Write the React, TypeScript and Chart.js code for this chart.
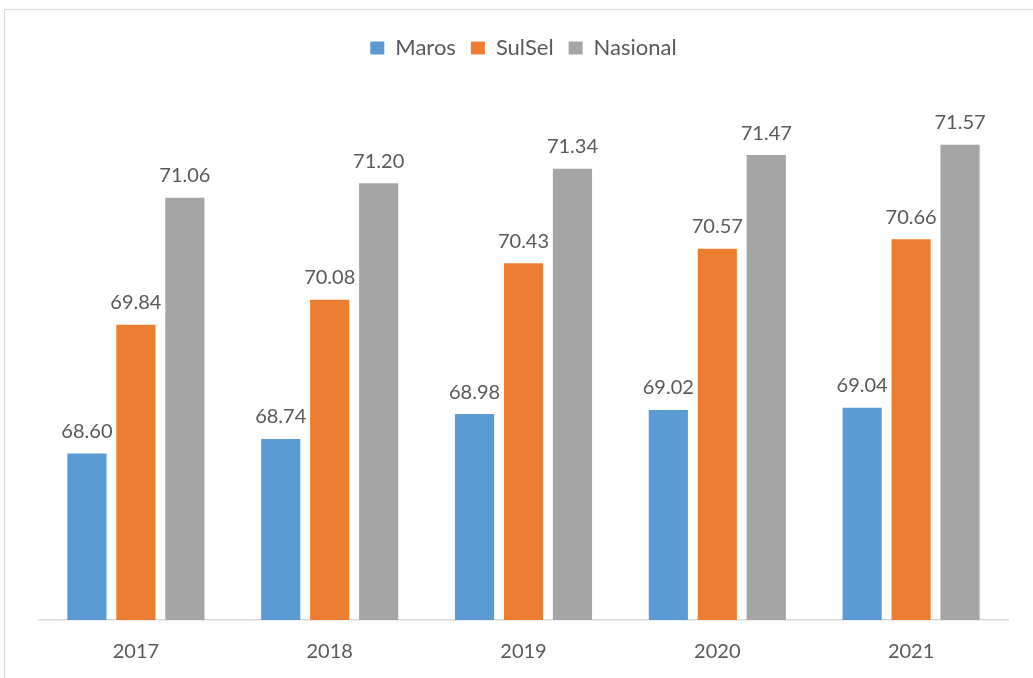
import React, { useEffect, useRef } from "react";
import { Chart, registerables } from "chart.js";

Chart.register(...registerables);

const categories = ["2017", "2018", "2019", "2020", "2021"];
const maros = [68.6, 68.74, 68.98, 69.02, 69.04];
const sulsel = [69.84, 70.08, 70.43, 70.57, 70.66];
const nasional = [71.06, 71.2, 71.34, 71.47, 71.57];

const FONT = "Lato, 'Noto Sans', sans-serif";
const TEXT = "#595959";

const labelPlugin = {
  id: "barLabels",
  afterDatasetsDraw(chart: any) {
    const ctx = chart.ctx;
    ctx.save();
    ctx.font = `20px ${FONT}`;
    ctx.fillStyle = TEXT;
    ctx.textAlign = "center";
    ctx.textBaseline = "bottom";
    chart.data.datasets.forEach((ds: any, i: number) => {
      const meta = chart.getDatasetMeta(i);
      meta.data.forEach((el: any, j: number) => {
        ctx.fillText(Number(ds.data[j]).toFixed(2), el.x, el.y - 12);
      });
    });
    ctx.restore();
  },
};

const legendGapPlugin = {
  id: "legendGap",
  beforeInit(chart: any) {
    const legend = chart.legend;
    if (!legend) return;
    const orig = legend.fit;
    legend.fit = function () {
      orig.call(this);
      this.height += 31;
    };
  },
};

export default function App() {
  const ref = useRef<HTMLCanvasElement>(null);
  useEffect(() => {
    if (!ref.current) return;
    const chart = new Chart(ref.current, {
      type: "bar",
      data: {
        labels: categories,
        datasets: [
          { label: "Maros", data: maros, backgroundColor: "#5B9BD5" },
          { label: "SulSel", data: sulsel, backgroundColor: "#ED7D31" },
          { label: "Nasional", data: nasional, backgroundColor: "#A5A5A5" },
        ],
      },
      options: {
        animation: false,
        responsive: false,
        layout: { padding: { left: 39, right: 25, top: 22, bottom: 15 } },
        datasets: {
          bar: { categoryPercentage: 0.758, barPercentage: 0.8 },
        } as any,
        scales: {
          x: {
            grid: { display: false, drawTicks: false },
            border: { display: true, color: "#d9d9d9", width: 1.5 },
            ticks: { color: TEXT, font: { family: FONT, size: 20 }, padding: 20 },
          },
          y: {
            display: false,
            min: 67,
            max: 72,
          },
        },
        plugins: {
          legend: {
            position: "top",
            labels: {
              boxWidth: 14,
              boxHeight: 13,
              padding: 15,
              color: TEXT,
              font: { family: FONT, size: 22 },
            },
          },
          tooltip: { enabled: false },
        },
      },
      plugins: [legendGapPlugin, labelPlugin],
    });
    return () => chart.destroy();
  }, []);

  return (
    <div style={{ position: "fixed", left: 0, top: 0, width: 1033, height: 678, background: "#fff", overflow: "hidden" }}>
      <div
        style={{
          position: "absolute",
          left: 4,
          top: 9,
          width: 1100,
          height: 800,
          border: "1.5px solid #d9d9d9",
          boxSizing: "border-box",
        }}
      />
      <canvas ref={ref} width={1033} height={699} style={{ position: "absolute", left: 0, top: 0 }} />
    </div>
  );
}
